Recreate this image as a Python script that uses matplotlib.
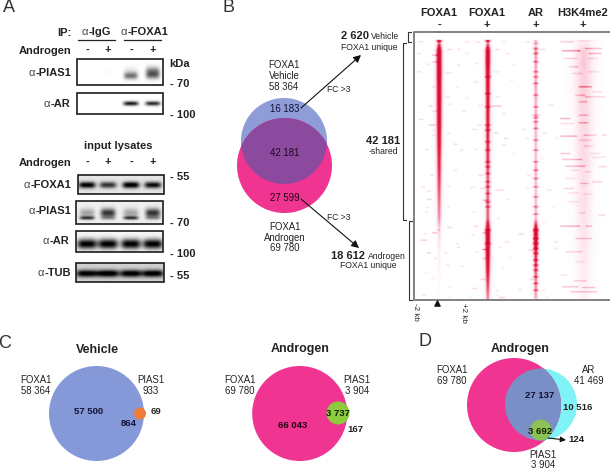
import numpy as np
import matplotlib
matplotlib.use('Agg')
import matplotlib.pyplot as plt
from matplotlib.colors import LinearSegmentedColormap
from matplotlib.patches import Circle, Rectangle

plt.rcParams['font.family'] = ['Liberation Sans', 'DejaVu Sans']

# western blot band strengths, one value per lane
ip_pias1_upper = [0.0, 0.01, 0.12, 0.55]
ip_pias1_lower = [0.0, 0.0, 0.5, 0.3]
ip_ar = [0.0, 0.0, 0.92, 0.85]
input_foxa1 = [0.95, 0.72, 1.0, 0.88]
input_pias1_upper = [0.3, 0.75, 0.3, 0.75]
input_pias1_lower = [0.7, 0.25, 0.7, 0.25]
input_ar = [1.0, 1.0, 1.0, 1.0]
input_tub = [0.9, 0.95, 0.92, 0.92]

# heatmap peak strength, one value per 12 px block of rows
foxa1_minus_peak = [0.2, 1, 1, 1, 0.95, 0.95, 0.9, 0.9, 0.85, 0.8, 0.72, 0.68, 0.62, 0.55, 0.48, 0.42,
                    0.22, 0.14, 0.09, 0.06, 0.04, 0.02, 0.0]
foxa1_plus_peak = [0.08, 1, 1, 0.9, 0.85, 0.82, 0.78, 0.75, 0.7, 0.68, 0.65, 0.6, 0.55, 0.55, 0.55, 0.55,
                   1, 1, 0.95, 0.85, 0.7, 0.55, 0.4]
ar_peak = [0.03, 0.42, 0.4, 0.36, 0.38, 0.35, 0.34, 0.34, 0.32, 0.3, 0.3, 0.36, 0.3, 0.3, 0.32, 0.3,
           1, 0.95, 0.7, 0.6, 0.5, 0.42, 0.32]
h3k4me2_peak = [0.0, 0.25, 0.26, 0.24, 0.24, 0.22, 0.2, 0.19, 0.19, 0.19, 0.19, 0.17, 0.16, 0.16, 0.16, 0.14,
                0.13, 0.13, 0.11, 0.09, 0.09, 0.06, 0.07]

# darker beads along the AR and FOXA1 + columns, rows in 1/3 px
ar_beads = [40, 55, 70, 95, 125, 140, 160, 195, 230, 262, 275, 295, 330, 360, 395, 420, 445, 470, 500,
            530, 552, 600, 625, 640, 655, 670, 690, 705, 720, 740, 760, 780]
foxa1_plus_beads = [140, 190, 230, 285, 300, 335, 360, 395, 410, 430, 455, 470, 490, 515, 530, 600, 640]

# side streaks: column, row, length, strength (1/3 px units)
streaks_top = [(20, 35, 15, .3), (160, 35, 12, .3), (190, 35, 15, .3), (270, 35, 12, .25), (340, 35, 15, .3),
               (445, 35, 40, .45), (15, 70, 12, .3), (105, 58, 15, .4), (135, 58, 10, .3), (60, 75, 20, .5),
               (160, 70, 10, .3), (250, 58, 12, .4), (280, 70, 12, .3), (385, 58, 15, .4), (450, 62, 55, .7),
               (520, 55, 50, .5), (530, 70, 40, .5), (45, 102, 10, .3), (135, 105, 10, .3), (190, 100, 10, .3),
               (60, 95, 15, .4), (300, 105, 10, .3), (455, 85, 40, .4), (470, 110, 30, .4), (530, 85, 30, .3),
               (15, 125, 12, .35), (100, 128, 20, .3), (245, 125, 15, .3), (295, 150, 10, .25), (480, 130, 30, .3),
               (530, 125, 30, .3), (185, 155, 12, .35), (60, 170, 10, .3), (130, 170, 10, .25), (500, 170, 40, .6),
               (540, 185, 30, .3), (100, 200, 15, .3), (160, 205, 10, .3), (250, 200, 15, .3), (520, 200, 60, .4),
               (490, 195, 30, .4), (50, 228, 12, .4), (110, 222, 10, .3), (240, 228, 30, .5), (200, 225, 12, .3),
               (410, 225, 15, .3), (500, 215, 25, .4), (150, 243, 12, .3), (60, 243, 15, .3), (445, 265, 30, .6),
               (20, 268, 15, .35), (360, 255, 25, .4), (500, 255, 30, .4), (270, 250, 12, .3), (75, 5, 10, .35)]
streaks_mid = [(50, 15, 20, .5), (195, 15, 15, .3), (445, 10, 40, .3), (500, 8, 30, .5), (60, 30, 8, .3),
               (180, 28, 15, .3), (245, 38, 15, .4), (330, 28, 12, .3), (390, 38, 15, .3), (105, 40, 10, .3),
               (445, 48, 50, .6), (515, 45, 40, .4), (570, 45, 15, .4), (60, 45, 10, .3), (275, 55, 12, .4),
               (340, 55, 10, .3), (430, 55, 10, .3), (125, 72, 12, .35), (270, 75, 12, .35), (500, 60, 40, .3),
               (515, 78, 30, .3), (40, 88, 10, .35), (145, 90, 10, .3), (185, 88, 10, .3), (300, 100, 8, .2),
               (445, 100, 30, .5), (535, 100, 30, .3), (450, 118, 60, .5), (540, 112, 30, .3), (570, 110, 12, .3),
               (385, 115, 10, .3), (460, 138, 60, .5), (560, 140, 25, .35), (125, 150, 10, .3), (55, 165, 10, .4),
               (200, 165, 15, .4), (345, 165, 12, .3), (475, 150, 25, .3), (520, 155, 20, .3), (460, 175, 30, .3),
               (540, 185, 30, .4), (505, 190, 25, .4), (30, 200, 10, .3), (105, 198, 10, .3), (175, 202, 15, .3),
               (205, 205, 15, .35), (250, 210, 25, .35), (340, 205, 10, .3), (405, 210, 15, .3), (455, 205, 30, .4),
               (470, 218, 30, .3), (45, 212, 12, .3), (45, 238, 15, .4), (210, 240, 15, .5), (285, 238, 10, .25),
               (515, 222, 25, .25), (470, 245, 30, .3), (40, 262, 10, .3), (105, 262, 8, .3), (420, 262, 8, .2)]
streaks_bottom = [(40, 5, 10, .25), (180, 5, 10, .25), (255, 25, 10, .3), (500, 8, 20, .3), (560, 15, 20, .4),
                  (185, 48, 15, .4), (105, 52, 15, .35), (390, 38, 10, .2), (445, 48, 60, .6), (520, 48, 20, .5),
                  (60, 68, 15, .5), (75, 60, 8, .3), (210, 68, 15, .4), (178, 75, 10, .3), (35, 70, 10, .3),
                  (320, 72, 15, .4), (25, 90, 20, .45), (130, 100, 10, .3), (280, 95, 12, .35), (425, 95, 12, .3),
                  (490, 85, 50, .4), (135, 112, 10, .35), (210, 118, 15, .6), (260, 112, 10, .3), (350, 120, 15, .45),
                  (425, 115, 12, .3), (45, 128, 12, .4), (95, 128, 10, .3), (190, 125, 10, .3), (460, 125, 50, .4),
                  (65, 145, 10, .3), (210, 145, 12, .35), (290, 142, 10, .2), (100, 165, 12, .3), (145, 168, 10, .25),
                  (270, 175, 8, .25), (490, 155, 30, .25), (40, 188, 8, .2), (205, 208, 15, .4), (355, 208, 10, .4),
                  (60, 205, 10, .25), (445, 195, 20, .3), (485, 212, 40, .4), (450, 230, 50, .5), (510, 232, 40, .5),
                  (180, 235, 15, .35), (250, 240, 10, .3), (320, 238, 12, .3), (390, 240, 10, .3), (110, 230, 8, .25),
                  (475, 245, 80, .5), (30, 255, 12, .3), (250, 255, 8, .25), (110, 262, 10, .25), (260, 262, 20, .4),
                  (170, 262, 10, .2), (400, 262, 10, .25)]

# venn counts
vehicle_unique = '16 183'
vehicle_shared = '42 181'
androgen_unique = '27 599'
foxa1_vehicle_total = '58 364'
foxa1_androgen_total = '69 780'
pias1_vehicle_total = '933'
pias1_androgen_total = '3 904'
ar_total = '41 469'

BLUE = '#8E9CD8'
PINK = '#EF3491'
PURPLE = '#8C4A9E'
ORANGE = '#EE7D3B'
GREEN = '#8CCB3E'
CYAN = '#7FF3F6'
SLATE = '#7A8FC6'
FS = 6.9
BOLD = 8.0
NUM = 6.8

fig = plt.figure(figsize=(6.1, 4.69), dpi=100)
ax = fig.add_axes([0, 0, 1, 1])
ax.set_xlim(0, 610)
ax.set_ylim(469, 0)
ax.axis('off')


def txt(x, y, s, size=FS, weight='normal', ha='center', color='#222222', **kw):
    return ax.text(x, y, s, fontsize=size, fontweight=weight, ha=ha, va='center', color=color, **kw)


def alpha_label(x, y, name, ha='right'):
    # thin alpha in front of a bold antibody name
    t = txt(x, y, '-' + name, size=BOLD, weight='bold', ha='left')
    a = txt(x, y, 'α', size=BOLD, weight='normal', ha='left', color='#444444')
    rend = fig.canvas.get_renderer()
    w_name = t.get_window_extent(rend).width
    w_a = a.get_window_extent(rend).width
    start = x - w_name - w_a if ha == 'right' else x - (w_name + w_a) / 2
    a.set_x(start)
    t.set_x(start + w_a)


def blot(x0, x1, y0, y1, bands, sx=8.5, bg=0.0):
    xs = np.linspace(x0, x1, 200)
    ys = np.linspace(y0, y1, 80)
    xx, yy = np.meshgrid(xs, ys)
    img = np.full(xx.shape, bg)
    for vals, yc, sy in bands:
        for lane, v in zip([87, 108, 131, 153], vals):
            img += v * np.exp(-((xx - lane) / sx) ** 4) * np.exp(-((yy - yc) / sy) ** 2)
    ax.imshow(1 - np.clip(img, 0, 1), cmap='gray', vmin=0, vmax=1, extent=(x0, x1, y1, y0),
              aspect='auto', zorder=1, interpolation='bilinear')
    ax.add_patch(Rectangle((x0, y0), x1 - x0, y1 - y0, fill=False, ec='#1c1c1c', lw=1.2, zorder=2))


# A
txt(9, 8, 'A', size=13, color='#333333')
txt(71, 33, 'IP:', size=BOLD, weight='bold', ha='right')
alpha_label(96.5, 32, 'IgG', ha='center')
alpha_label(144.5, 32, 'FOXA1', ha='center')
ax.plot([78, 115], [40, 40], color='#222222', lw=0.9)
ax.plot([124, 161], [40, 40], color='#222222', lw=0.9)
for y in [51, 163]:
    txt(71, y, 'Androgen', size=BOLD, weight='bold', ha='right')
    for x, s in zip([87, 108, 131, 153], ['-', '+', '-', '+']):
        txt(x, y - 1, s, size=BOLD, weight='bold')

blot(77, 163, 59, 85, [(ip_pias1_upper, 72, 5), (ip_pias1_lower, 76, 3.5)], sx=7)
blot(77, 163, 93, 114, [(ip_ar, 103.5, 2.2)], sx=7.5)
blot(78, 164, 175, 194, [(input_foxa1, 185, 3.2)], bg=0.1)
blot(76, 163, 201, 224, [(input_pias1_upper, 213, 4.5), (input_pias1_lower, 218, 1.8)], sx=7.5, bg=0.06)
blot(76, 163, 231, 252, [(input_ar, 244, 5)], sx=10, bg=0.03)
blot(76, 164, 263, 282, [(input_tub, 273.5, 3.6)], sx=11, bg=0.18)

alpha_label(71, 73, 'PIAS1')
alpha_label(70, 104, 'AR')
alpha_label(71, 185, 'FOXA1')
alpha_label(71, 211, 'PIAS1')
alpha_label(69, 241, 'AR')
alpha_label(71, 273, 'TUB')
txt(118, 146, 'input lysates', size=BOLD, weight='bold')
txt(169, 64, 'kDa', size=BOLD, weight='bold', ha='left')
for y, s in [(84, '- 70'), (115, '- 100'), (177, '- 55'), (223, '- 70'), (254, '- 100'), (276, '- 55')]:
    txt(170, y, s, size=BOLD, weight='bold', ha='left')

# B venn
txt(228, 7, 'B', size=13, color='#333333')
blue = Circle((284, 141), 43, fc=BLUE, ec='none', zorder=2)
pink = Circle((284.5, 165.5), 47.5, fc=PINK, ec='none', zorder=3)
ax.add_patch(blue)
ax.add_patch(pink)
overlap = Circle((284, 141), 43, fc=PURPLE, ec='none', zorder=4)
ax.add_patch(overlap)
overlap.set_clip_path(pink)
for y, s in zip([65, 76, 87], ['FOXA1', 'Vehicle', foxa1_vehicle_total]):
    txt(284, y, s)
for y, s in zip([227, 238, 248], ['FOXA1', 'Androgen', foxa1_androgen_total]):
    txt(284.5, y, s)
txt(285, 109, vehicle_unique, zorder=6, color='#111133')
txt(285, 153, vehicle_shared, zorder=6, color='#1a0a20')
txt(285, 198, androgen_unique, zorder=6, color='#200010')
for start, end in [((301, 108), (361, 55)), ((301, 199), (359, 248))]:
    ax.annotate('', xy=end, xytext=start, zorder=7,
                arrowprops=dict(arrowstyle='-|>', color='#111111', lw=0.8, mutation_scale=11, shrinkA=0, shrinkB=0))
txt(339, 89, 'FC >3', size=6.2)
txt(339, 218, 'FC >3', size=6.2)
txt(341, 36, '2 620', size=8, weight='bold', ha='left')
txt(371, 36.5, 'Vehicle', size=6.2, ha='left')
txt(369, 47, 'FOXA1 unique', size=6.2)
txt(331, 256, '18 612', size=8, weight='bold', ha='left')
txt(368, 256.5, 'Androgen', size=6.2, ha='left')
txt(368, 266, 'FOXA1 unique', size=6.2)
txt(383, 141, '42 181', size=8, weight='bold')
txt(383, 152, '-shared', size=6.2)

# brackets next to the heatmap
ax.plot([411, 408, 408, 411], [32.5, 32.5, 42, 42], color='#333333', lw=0.8)
ax.plot([406, 403, 403, 406], [43, 43, 220.5, 220.5], color='#333333', lw=0.8)
ax.plot([412, 408.5, 408.5, 412], [221, 221, 300, 300], color='#333333', lw=0.8)

# B heatmap, matrix cells are 1/3 px
heat = np.zeros((810, 594))
rows = np.arange(810)
cols = np.arange(594)
for peak, col, sigma, head in [(foxa1_minus_peak, 81, 4.2, 8), (foxa1_plus_peak, 227, 3.8, 8),
                               (ar_peak, 371, 3.6, 7), (h3k4me2_peak, 515, 20, 28)]:
    strength = np.interp(rows, 36 * np.arange(len(peak)) + 24, peak)
    strength[:30] = 0
    strength[4:9] = peak[0]
    strength[30:36] = peak[1]
    width = sigma * (1 + 0.9 * strength)
    heat += strength[:, None] * np.exp(-((cols[None, :] - col) / width[:, None]) ** 2)
    # the fainter halo around each peak
    heat += 0.1 * strength[:, None] * np.exp(-((cols[None, :] - col) / (head * 1.6)) ** 2)
for r in ar_beads:
    heat[r - 2:r + 3, 362:381] += 0.3
for r in foxa1_plus_beads:
    heat[r - 2:r + 3, 218:238] += 0.25
for offset, band in [(0, streaks_top), (270, streaks_mid), (540, streaks_bottom)]:
    for cx, cy, length, val in band:
        r = min(cy + offset, 806)
        heat[r - 1:r + 2, cx:cx + length] += val * 0.85
# light blur along the rows so that it looks like the scan
kernel = np.array([1, 2, 3, 2, 1]) / 9.0
heat = np.apply_along_axis(lambda v: np.convolve(v, kernel, mode='same'), 0, heat)

heat_cmap = LinearSegmentedColormap.from_list(
    'heat', ['#FFFFFF', '#FBD3DF', '#F27C98', '#E6203F', '#DA0A35'])
ax.imshow(heat, cmap=heat_cmap, vmin=0, vmax=1, extent=(412, 610, 300, 30), aspect='auto',
          interpolation='antialiased', zorder=1)
ax.set_xlim(0, 610)
ax.set_ylim(469, 0)
ax.add_patch(Rectangle((404, 0), 10, 300, fc='white', ec='none', zorder=1.5))
ax.add_patch(Rectangle((412, 26), 198, 5.5, fc='white', ec='none', zorder=1.5))
ax.plot([610, 414, 414, 610], [32, 32, 300, 300], color='#777777', lw=1.3, zorder=3)
for x, name, sign in zip([439, 487, 536, 583], ['FOXA1', 'FOXA1', 'AR', 'H3K4me2'], ['-', '+', '+', '+']):
    txt(x, 13, name, size=BOLD, weight='bold')
    txt(x, 25, sign, size=BOLD, weight='bold')
txt(415, 312, '-2 kb', size=5.8, rotation=270)
txt(463, 313, '+2 kb', size=5.8, rotation=270)
ax.scatter([437], [303], marker='^', s=14, color='#111111', zorder=4)

# C
txt(5, 343, 'C', size=13, color='#333333')
txt(97, 350, 'Vehicle', size=9, weight='bold')
ax.add_patch(Circle((96.5, 413.5), 47.5, fc='#8598D8', ec='none', zorder=2))
ax.add_patch(Circle((140, 413.5), 6, fc=ORANGE, ec='none', zorder=3))
for x, lines in [(36, ['FOXA1', foxa1_vehicle_total]), (151, ['PIAS1', pias1_vehicle_total])]:
    txt(x, 380, lines[0])
    txt(x, 391, lines[1])
txt(89, 411, '57 500', size=NUM, weight='bold', zorder=5, color='#111133')
txt(129, 423, '864', size=NUM, weight='bold', zorder=5, color='#111133')
txt(156, 411, '69', size=NUM, weight='bold')

txt(300, 349, 'Androgen', size=9, weight='bold')
ax.add_patch(Circle((299.7, 413.5), 47.5, fc=PINK, ec='none', zorder=2))
ax.add_patch(Circle((338, 413), 11.5, fc=GREEN, ec='none', zorder=3))
for x, lines in [(240, ['FOXA1', foxa1_androgen_total]), (357, ['PIAS1', pias1_androgen_total])]:
    txt(x, 380, lines[0], zorder=5)
    txt(x, 391, lines[1], zorder=5)
txt(293, 426, '66 043', size=NUM, weight='bold', zorder=5, color='#200010')
txt(338, 413, '3 737', size=NUM, weight='bold', zorder=5, color='#102000')
txt(355, 429, '167', size=NUM, weight='bold')

# D
txt(425, 342, 'D', size=13, color='#333333')
txt(520, 349, 'Androgen', size=9, weight='bold')
ar_circle = Circle((541, 404.5), 36, fc=CYAN, ec='none', zorder=2)
foxa1_circle = Circle((514, 405), 47, fc=PINK, ec='none', zorder=3)
ax.add_patch(ar_circle)
ax.add_patch(foxa1_circle)
shared = Circle((541, 404.5), 36, fc=SLATE, ec='none', zorder=4)
ax.add_patch(shared)
shared.set_clip_path(foxa1_circle)
ax.add_patch(Circle((540.7, 430), 10.5, fc='#8DC256', ec='none', zorder=5))
for x, lines in [(452, ['FOXA1', foxa1_androgen_total]), (589, ['AR', ar_total])]:
    txt(x, 370, lines[0])
    txt(x, 381, lines[1])
txt(540, 395, '27 137', size=NUM, weight='bold', zorder=6, color='#111133')
txt(578, 407, '10 516', size=NUM, weight='bold', zorder=6)
txt(540, 431, '3 692', size=NUM, weight='bold', zorder=6, color='#102000')
ax.annotate('', xy=(566, 440), xytext=(548, 438), zorder=7,
            arrowprops=dict(arrowstyle='-|>', color='#111111', lw=0.8, mutation_scale=8, shrinkA=0, shrinkB=0))
txt(568, 440, '124', size=NUM, weight='bold', ha='left')
txt(543, 455, 'PIAS1')
txt(543, 465, pias1_androgen_total)

fig.savefig('out.png', dpi=100)
